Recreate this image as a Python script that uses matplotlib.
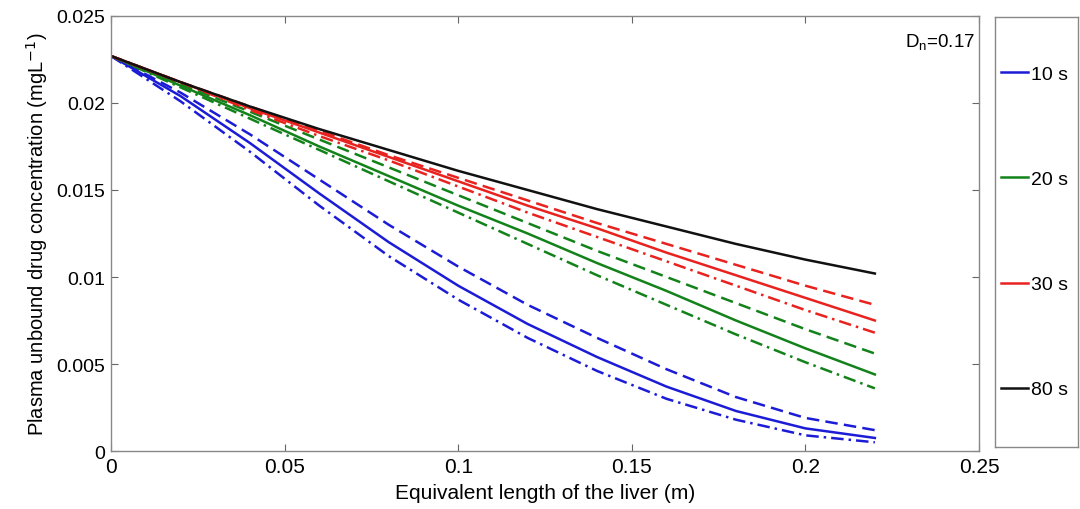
import numpy as np
import matplotlib
matplotlib.use("Agg")
import matplotlib.pyplot as plt
from matplotlib.lines import Line2D

plt.rcParams["font.family"] = ["Liberation Sans", "DejaVu Sans"]

# equivalent length of the liver (m)
length = [0.0, 0.02, 0.04, 0.06, 0.08, 0.10, 0.12, 0.14, 0.16, 0.18, 0.20, 0.22]

# plasma unbound drug concentration (mg/L), one list per transit time / line style
c10_solid = [0.0227, 0.0204, 0.0177, 0.0148, 0.0120, 0.0095, 0.0073, 0.0054, 0.0037, 0.0023, 0.0013, 0.00075]
c10_dash = [0.0227, 0.0206, 0.0182, 0.0156, 0.0130, 0.0106, 0.0084, 0.0065, 0.0047, 0.0031, 0.0019, 0.0012]
c10_dashdot = [0.0227, 0.0201, 0.0172, 0.0141, 0.0112, 0.0087, 0.0065, 0.0046, 0.0030, 0.0018, 0.0009, 0.0005]

c20_solid = [0.0227, 0.0210, 0.0193, 0.0175, 0.0158, 0.0141, 0.0125, 0.0108, 0.0092, 0.0075, 0.0059, 0.0044]
c20_dash = [0.0227, 0.0211, 0.0195, 0.0179, 0.0163, 0.0147, 0.0131, 0.0115, 0.0100, 0.0085, 0.0070, 0.0056]
c20_dashdot = [0.0227, 0.0209, 0.0191, 0.0173, 0.0155, 0.0137, 0.0119, 0.0101, 0.0084, 0.0067, 0.0051, 0.0036]

c30_solid = [0.0227, 0.0212, 0.0197, 0.0183, 0.0169, 0.0155, 0.0141, 0.0128, 0.0114, 0.0101, 0.0088, 0.0075]
c30_dash = [0.0227, 0.0212, 0.0198, 0.0184, 0.0170, 0.0157, 0.0144, 0.0131, 0.0119, 0.0107, 0.0095, 0.0084]
c30_dashdot = [0.0227, 0.0212, 0.0196, 0.0181, 0.0167, 0.0152, 0.0137, 0.0123, 0.0109, 0.0095, 0.0081, 0.0068]

c80_solid = [0.0227, 0.0212, 0.0198, 0.0185, 0.0173, 0.0161, 0.0150, 0.0139, 0.0129, 0.0119, 0.0110, 0.0102]

times = ["10 s", "20 s", "30 s", "80 s"]
xticks = [0, 0.05, 0.1, 0.15, 0.2, 0.25]
xtick_labels = ["0", "0.05", "0.1", "0.15", "0.2", "0.25"]
yticks = [0, 0.005, 0.01, 0.015, 0.02, 0.025]
ytick_labels = ["0", "0.005", "0.01", "0.015", "0.02", "0.025"]

BLUE, GREEN, RED, BLACK = "#1c1cd6", "#13821a", "#e8231f", "#111111"
LW = 1.8
DASH = (0, (5, 2.5))
DASHDOT = (0, (5, 2, 1, 2))

fig = plt.figure(figsize=(10.8, 5.1), dpi=100)
ax = fig.add_axes([0.1028, 0.1137, 0.8037, 0.853])

series = [
    (c10_solid, BLUE, "-"), (c10_dash, BLUE, DASH), (c10_dashdot, BLUE, DASHDOT),
    (c20_solid, GREEN, "-"), (c20_dash, GREEN, DASH), (c20_dashdot, GREEN, DASHDOT),
    (c30_solid, RED, "-"), (c30_dash, RED, DASH), (c30_dashdot, RED, DASHDOT),
    (c80_solid, BLACK, "-"),
]
for vals, col, ls in series:
    ax.plot(length, vals, color=col, ls=ls, lw=LW)

ax.set_xlim(0, 0.25)
ax.set_ylim(0, 0.025)
ax.set_xticks(xticks)
ax.set_xticklabels(xtick_labels)
ax.set_yticks(yticks)
ax.set_yticklabels(ytick_labels)
ax.tick_params(direction="in", top=True, right=True, length=5, width=0.8,
               color="#666666", labelsize=14, pad=4)
for lab in ax.get_xticklabels():
    lab.set_fontsize(15)
for s in ax.spines.values():
    s.set_color("#888888")
    s.set_linewidth(1.0)

ax.set_xlabel("Equivalent length of the liver (m)", fontsize=15, labelpad=5)
ax.set_ylabel("Plasma unbound drug concentration (mgL$^{-1}$)", fontsize=14.5, labelpad=5)
ax.text(0.2287, 0.0235, "D$_\\mathregular{n}$=0.17", fontsize=13.5, va="center")

# separate legend box on the right
lax = fig.add_axes([0.9213, 0.1216, 0.0769, 0.8431])
lax.set_xticks([])
lax.set_yticks([])
for s in lax.spines.values():
    s.set_color("#888888")
    s.set_linewidth(1.0)
handles = [Line2D([], [], color=c, lw=LW) for c in (BLUE, GREEN, RED, BLACK)]
lax.legend(handles, times, loc="center left", bbox_to_anchor=(0.0, 0.5),
           frameon=False, fontsize=14, handlelength=1.4, handletextpad=0.15,
           labelspacing=4.5, borderaxespad=0.0, borderpad=0.3)

fig.savefig("out.png", dpi=100)
